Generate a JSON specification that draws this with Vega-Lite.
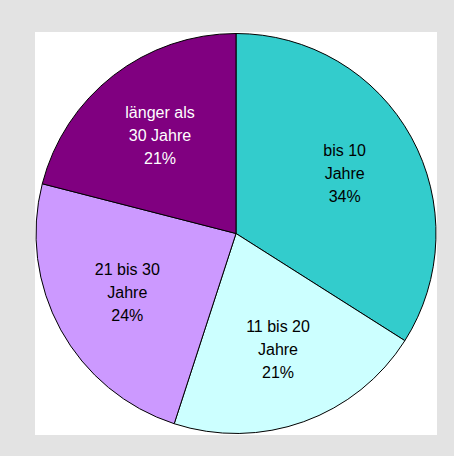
{
  "$schema": "https://vega.github.io/schema/vega-lite/v6.json",
  "autosize": "none",
  "width": 402,
  "height": 403,
  "padding": {"left": 35, "top": 32, "right": 17, "bottom": 21},
  "background": "#e3e3e3",
  "view": {"fill": "white", "stroke": null},
  "data": {
    "values": [
      {"idx": 1, "cat": "bis 10 Jahre", "share": 34, "label": "bis 10\nJahre\n34%"},
      {"idx": 2, "cat": "11 bis 20 Jahre", "share": 21, "label": "11 bis 20\nJahre\n21%"},
      {"idx": 3, "cat": "21 bis 30 Jahre", "share": 24, "label": "21 bis 30\nJahre\n24%"},
      {"idx": 4, "cat": "länger als 30 Jahre", "share": 21, "label": "länger als\n30 Jahre\n21%"}
    ]
  },
  "encoding": {
    "theta": {"field": "share", "type": "quantitative", "stack": true},
    "order": {"field": "idx", "type": "quantitative"}
  },
  "layer": [
    {
      "mark": {"type": "arc", "outerRadius": 200, "stroke": "black", "strokeWidth": 1},
      "encoding": {
        "color": {
          "field": "cat",
          "type": "nominal",
          "legend": null,
          "scale": {
            "domain": ["bis 10 Jahre", "11 bis 20 Jahre", "21 bis 30 Jahre", "länger als 30 Jahre"],
            "range": ["#33CCCC", "#CCFFFF", "#CC99FF", "#800080"]
          }
        }
      }
    },
    {
      "mark": {"type": "text", "radius": 124, "dy": -23, "lineBreak": "\n", "fontSize": 16, "font": "Liberation Sans", "lineHeight": 23, "align": "center", "baseline": "middle"},
      "encoding": {
        "text": {"field": "label", "type": "nominal"},
        "color": {
          "condition": {"test": "datum.idx === 4", "value": "white"},
          "value": "black"
        }
      }
    }
  ]
}
